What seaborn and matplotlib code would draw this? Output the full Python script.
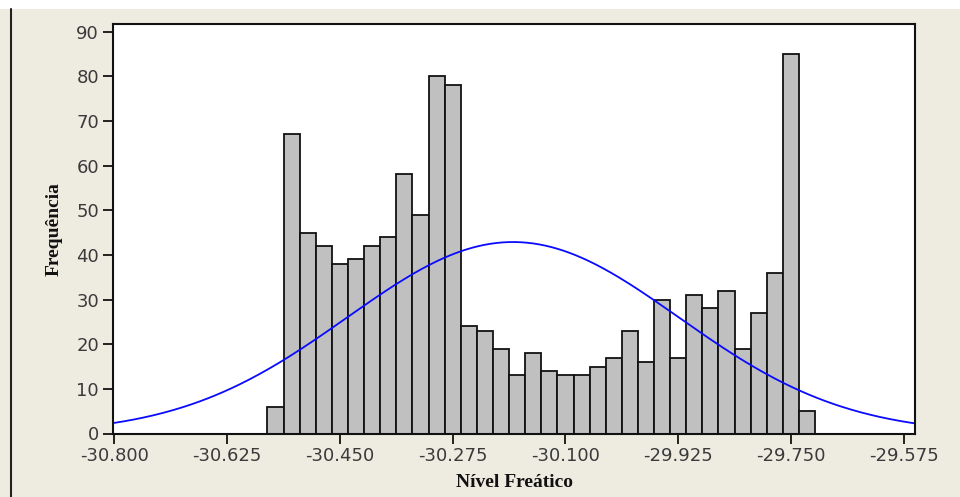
import numpy as np
import pandas as pd
import seaborn as sns
import matplotlib
matplotlib.use("Agg")
import matplotlib.pyplot as plt
from matplotlib.patches import Rectangle
from matplotlib.lines import Line2D

# Histogram of water-table level: bin midpoints (width 0.025) and counts
bin_width = 0.025
first_mid = -30.550
counts = [6, 67, 45, 42, 38, 39, 42, 44, 58, 49, 80, 78,
          24, 23, 19, 13, 18, 14, 13, 13, 15, 17, 23, 16,
          30, 17, 31, 28, 32, 19, 27, 36, 85, 5]
x_ticks = [-30.800, -30.625, -30.450, -30.275, -30.100, -29.925, -29.750, -29.575]
x_tick_labels = ["-30.800", "-30.625", "-30.450", "-30.275", "-30.100",
                 "-29.925", "-29.750", "-29.575"]
y_ticks = [0, 10, 20, 30, 40, 50, 60, 70, 80, 90]

mids = first_mid + bin_width * np.arange(len(counts))
edges = np.append(mids - bin_width / 2, mids[-1] + bin_width / 2)
df = pd.DataFrame({"nivel": mids, "freq": counts})

# Normal fit from the binned sample
cnt = np.array(counts, dtype=float)
n_obs = cnt.sum()
mu = (mids * cnt).sum() / n_obs
sigma = np.sqrt(((mids - mu) ** 2 * cnt).sum() / (n_obs - 1))

xlim = (-30.8023, -29.5575)
xs = np.linspace(xlim[0], xlim[1], 400)
fit = n_obs * bin_width * np.exp(-0.5 * ((xs - mu) / sigma) ** 2) / (sigma * np.sqrt(2 * np.pi))
fit_df = pd.DataFrame({"nivel": xs, "freq": fit})

sns.set_theme(style="white")
plt.rcParams["axes.unicode_minus"] = False
plt.rcParams["font.family"] = ["DejaVu Sans"]

bg = "#eeebe1"
fig = plt.figure(figsize=(9.6, 4.97), dpi=100, facecolor=bg)
# white strip along the top and the frame line on the left
fig.add_artist(Rectangle((0, 1 - 9 / 497), 1, 9 / 497, transform=fig.transFigure,
                         facecolor="white", edgecolor="none", zorder=0))
fig.add_artist(Line2D([10.5 / 960, 10.5 / 960], [0, 1 - 9 / 497], transform=fig.transFigure,
                      color="#222222", linewidth=1.5))

ax = fig.add_axes([113 / 960, 1 - 433.5 / 497, 802 / 960, 409.5 / 497])
ax.set_facecolor("white")

sns.histplot(data=df, x="nivel", weights="freq", bins=edges.tolist(), ax=ax,
             color="#c0c0c0", edgecolor="#111111", linewidth=1.3, alpha=1.0)
sns.lineplot(data=fit_df, x="nivel", y="freq", ax=ax, color="#0a0aff", linewidth=1.3)

ax.set_xlim(*xlim)
ax.set_ylim(0, 91.7)
ax.set_xticks(x_ticks)
ax.set_xticklabels(x_tick_labels)
ax.set_yticks(y_ticks)

for side in ["top", "right", "bottom", "left"]:
    ax.spines[side].set_visible(True)
    ax.spines[side].set_color("#111111")
    ax.spines[side].set_linewidth(1.5)

ax.tick_params(axis="both", which="major", direction="out", length=7, width=1.3,
               color="#111111", labelsize=13, labelcolor="#3a3a3a", pad=3,
               bottom=True, left=True)

ax.set_xlabel("Nível Freático", family="Liberation Serif", fontweight="bold",
              fontsize=14, color="#111111", labelpad=6)
ax.set_ylabel("Frequência", family="Liberation Serif", fontweight="bold",
              fontsize=14, color="#111111", labelpad=10)

fig.savefig("out.png", dpi=100, facecolor=bg)
